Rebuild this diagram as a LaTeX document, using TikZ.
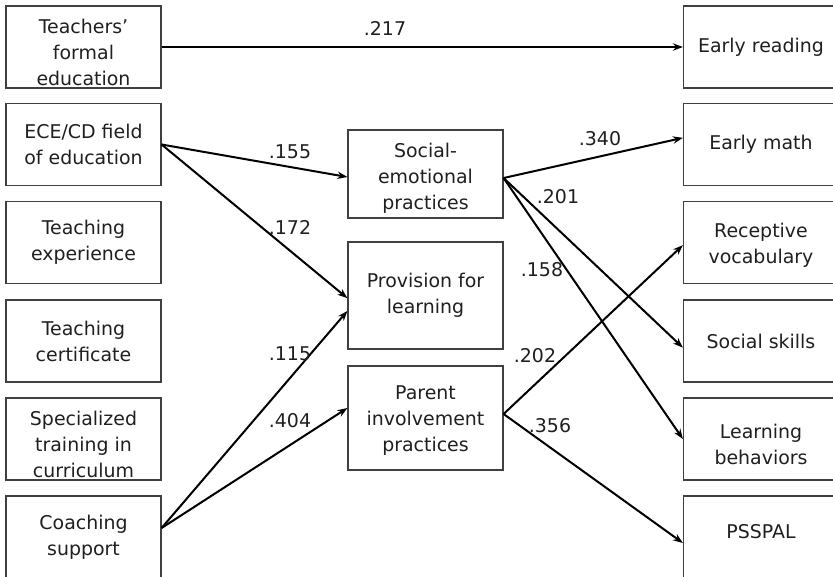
\documentclass[tikz,border=0pt]{standalone}
\usepackage{fontspec}
\setmainfont{DejaVu Sans}
\usetikzlibrary{arrows.meta}
\newcommand\myup[1]{\rule{0pt}{#1}}
\newcommand\mydn[1]{\rule[-#1]{0pt}{#1}}
\begin{document}
\begin{tikzpicture}[x=0.75pt,y=-0.75pt,
  box/.style={draw=black!75, line width=0.9pt, minimum width=116.25pt, minimum height=61.5pt,
    inner sep=0pt, align=center, text=black!88, font=\fontsize{14.2pt}{19.5pt}\selectfont},
  conn/.style={line width=1.5pt, draw=black, -{Stealth[length=7.5pt,width=5.5pt]}},
  lab/.style={inner sep=0pt, text=black!88, font=\fontsize{14.2pt}{19.5pt}\selectfont}]
\useasboundingbox (0,0) rectangle (833,576);
\clip (0,0) rectangle (833,576);
% left column
\node[box] (tfe) at (83.5,47) {\myup{18.8pt}Teachers'\\formal\\education};
\node[box] (ece) at (83.5,144.5) {ECE/CD field\\of education};
\node[box] (tex) at (83.5,242.5) {Teaching\\experience};
\node[box] (tce) at (83.5,341) {Teaching\\certificate};
\node[box] (spt) at (83.5,439) {\myup{18.8pt}Specialized\\training in\\curriculum};
\node[box] (coa) at (83.5,537) {Coaching\\support};
% middle column
\node[box, minimum height=66pt] (sep) at (425.5,174) {\myup{16.5pt}Social-\\emotional\\practices};
\node[box, minimum height=80.25pt] (pro) at (425.5,295.5) {Provision for\\learning};
\node[box, minimum height=78pt] (par) at (425.5,418) {\myup{14.8pt}Parent\\involvement\\practices};
% right column
\node[box] (erd) at (761,47) {Early reading};
\node[box] (emt) at (761,144.5) {Early math};
\node[box] (rvo) at (761,242.5) {\myup{15pt}Receptive\\vocabulary};
\node[box] (ssk) at (761,341) {Social skills};
\node[box] (lbe) at (761,439) {\myup{19.5pt}Learning\\behaviors};
\node[box] (psp) at (761,537) {PSSPAL\mydn{9pt}};
% connectors
\draw[conn] (tfe.east) -- (erd.west);
\draw[conn] (ece.east) -- ([yshift=-2.25pt]sep.west);
\draw[conn] (ece.east) -- ([yshift=-2pt]pro.west);
\draw[conn] ([yshift=6.75pt]coa.east) -- ([yshift=-11.6pt]pro.west);
\draw[conn] ([yshift=6.75pt]coa.east) -- ([yshift=7.5pt]par.west);
\draw[conn] ([yshift=-3pt]sep.east) -- ([yshift=5pt]emt.west);
\draw[conn] ([yshift=-3pt]sep.east) -- ([yshift=-5pt]ssk.west);
\draw[conn] ([yshift=-3pt]sep.east) -- (lbe.west);
\draw[conn] ([yshift=3pt]par.east) -- ([yshift=-2pt]rvo.west);
\draw[conn] ([yshift=3pt]par.east) -- ([yshift=-4.5pt]psp.west);
% labels
\node[lab] (l217) at (385,28) {.217};
\node[lab] (l155) at (290,152) {.155};
\node[lab] (l172) at (290,227) {.172};
\node[lab] (l115) at (290,354) {.115};
\node[lab] (l404) at (290,421) {.404};
\node[lab] (l340) at (600,139) {.340};
\node[lab] (l201) at (558,197) {.201};
\node[lab] (l158) at (542,270) {.158};
\node[lab] (l202) at (535,356) {.202};
\node[lab] (l356) at (550,426) {.356};
\end{tikzpicture}
\end{document}
